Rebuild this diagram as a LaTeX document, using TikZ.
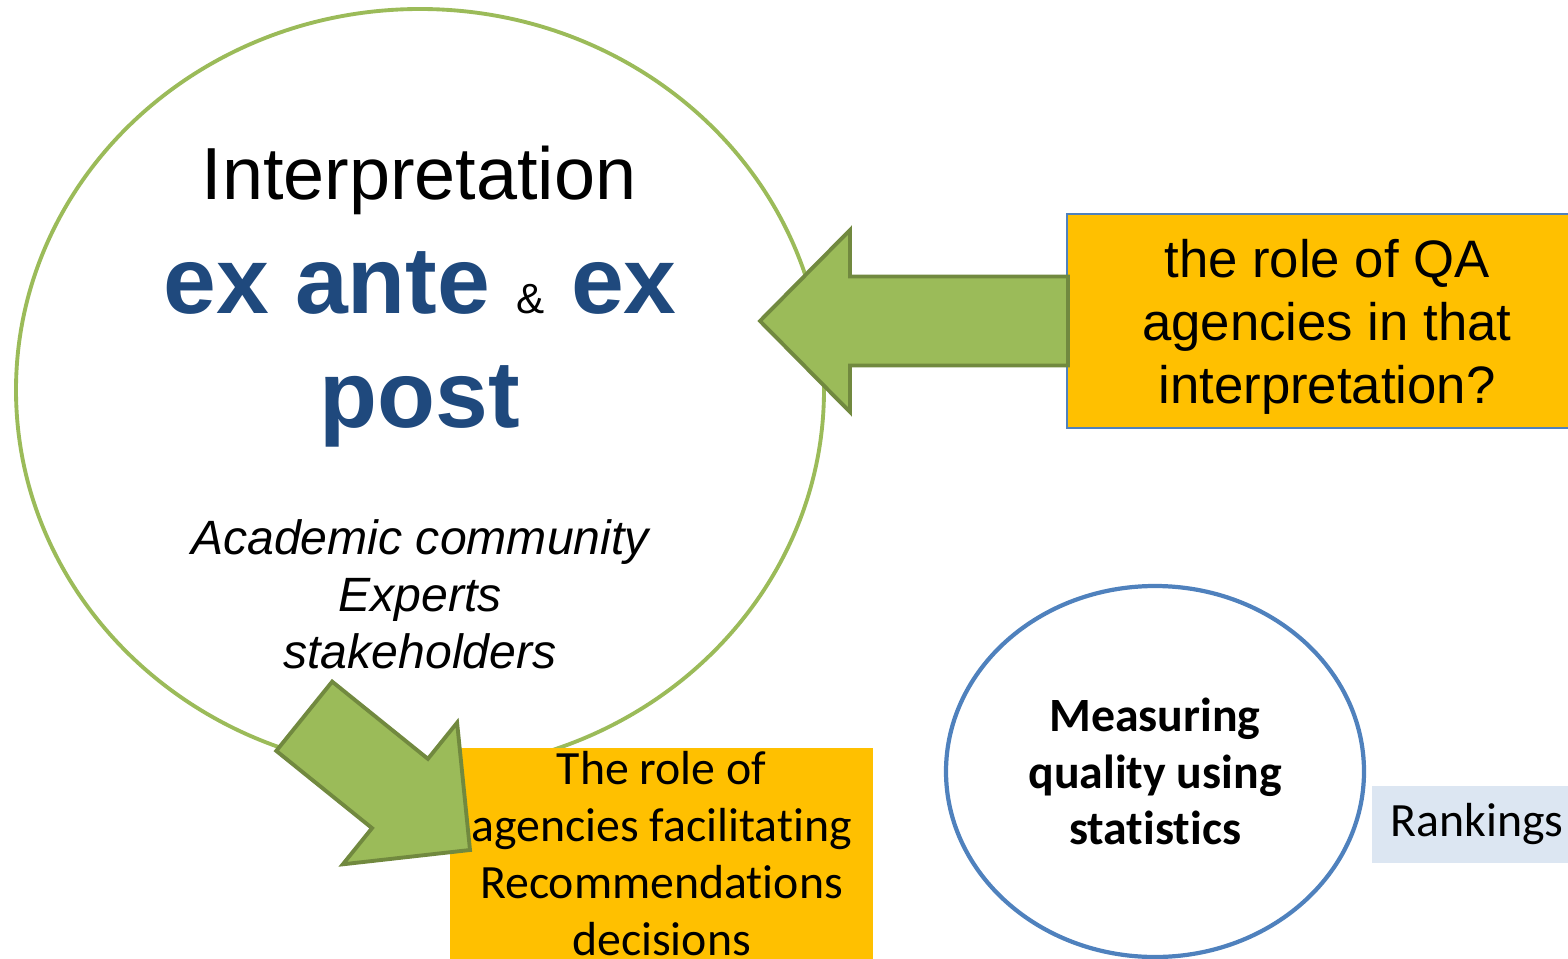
\documentclass[tikz,border=0pt]{standalone}
\usepackage{fontspec}
\setmainfont{Liberation Sans}
\newfontfamily\calibri[Ligatures=NoCommon]{Carlito}
\usetikzlibrary{shapes.geometric}

\definecolor{ringgreen}{HTML}{9BBB59}
\definecolor{arrowedge}{HTML}{71893F}
\definecolor{boxorange}{HTML}{FFC000}
\definecolor{ringblue}{HTML}{4F81BD}
\definecolor{titlenavy}{HTML}{1F497D}
\definecolor{rankfill}{HTML}{DCE6F2}

\tikzset{
  greenarrow/.style={fill=ringgreen, draw=arrowedge, line width=1.1pt, line join=miter},
  blockarrow/.pic={
    \draw[greenarrow] (0,0) -- (0.90,0.91) -- (0.90,0.445) -- (#1,0.445)
      -- (#1,-0.445) -- (0.90,-0.445) -- (0.90,-0.91) -- cycle;
  },
  orangebox/.style={fill=boxorange, inner sep=0pt, align=center},
}

\begin{document}
\begin{tikzpicture}

    \useasboundingbox (0,0) rectangle (15.68,-9.59);

    % Big green ring with its texts
    \node[draw=ringgreen, line width=1.1pt, ellipse, inner sep=0pt,
          minimum width=8.08cm, minimum height=7.62cm] (ring) at (4.20,-3.90) {};
    \node[anchor=base, font=\fontsize{21}{25}\selectfont] (title) at (4.19,-2.00) {Interpretation};
    \node[anchor=base, text=titlenavy, font=\fontsize{27}{32}\selectfont\bfseries] (exante) at (4.20,-3.13)
        {ex ante {\color{black}\mdseries\fontsize{12}{14}\selectfont\&} ex};
    \node[anchor=base, text=titlenavy, font=\fontsize{27}{32}\selectfont\bfseries] (post) at (4.20,-4.28) {post};
    \node[anchor=base, align=center, font=\fontsize{13.7}{16.2}\selectfont\itshape] (people) at (4.20,-6.68)
        {Academic community\\Experts\\stakeholders};

    % Question box on the right
    \node[orangebox, draw=ringblue, line width=0.5pt, minimum width=5.20cm, minimum height=2.14cm,
          text depth=0pt, font=\fontsize{15}{17.9}\selectfont] (qabox) at (13.27,-3.21)
        {the role of QA\\agencies in that\\interpretation?};

    % Box below the ring
    \node[orangebox, minimum width=4.23cm, minimum height=2.11cm,
          font=\calibri\fontsize{13.6}{16.2}\selectfont] (rolebox) at (6.615,-8.535)
        {The role of\\agencies facilitating\\Recommendations\\decisions};

    % Block arrows
    \pic at (7.60,-3.21) {blockarrow=3.08};
    \pic[rotate=141.1] at (4.70,-8.50) {blockarrow=2.13};

    % Blue circle and rankings
    \node[draw=ringblue, line width=1.2pt, ellipse, inner sep=0pt, align=center,
          minimum width=4.18cm, minimum height=3.71cm,
          font=\calibri\bfseries\fontsize{13.6}{16}\selectfont] (measure) at (11.55,-7.715)
        {Measuring\\quality using\\statistics};
    \node[fill=rankfill, inner sep=0pt, minimum width=2.10cm, minimum height=0.77cm,
          font=\calibri\fontsize{13.6}{16}\selectfont] (rank) at (14.77,-8.245) {Rankings};

\end{tikzpicture}
\end{document}
